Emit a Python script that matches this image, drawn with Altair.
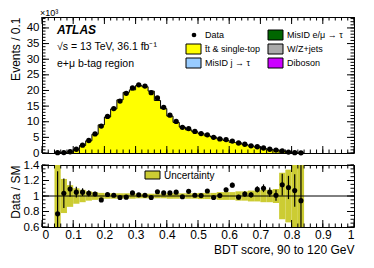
import altair as alt
import pandas as pd
import numpy as np

FONT = "Liberation Sans"

# ---- data ----
bin_lo = [round(0.04 + 0.02 * i, 2) for i in range(40)]
bin_hi = [round(b + 0.02, 2) for b in bin_lo]
centers = [round(b + 0.01, 2) for b in bin_lo]

data_k = [0.1, 0.15, 0.4, 1.2, 2.5, 4.0, 6.1, 8.6, 11.7, 14.2,
          16.6, 19.1, 20.8, 21.8, 21.4, 19.3, 17.6, 14.6, 12.1, 10.1,
          8.2, 7.8, 6.9, 6.2, 5.8, 5.0, 4.5, 4.3, 3.8, 3.2,
          2.8, 2.3, 2.0, 1.6, 1.2, 0.95, 0.64, 0.3, 0.1, 0.05]
mc_k = [0.13, 0.15, 0.37, 1.15, 2.4, 3.9, 6.0, 9.0, 11.5, 14.1,
        17.0, 19.4, 20.2, 21.6, 21.2, 19.8, 16.8, 14.2, 11.8, 9.8,
        8.3, 7.4, 6.8, 6.2, 5.5, 5.1, 4.5, 4.0, 3.4, 3.25,
        2.75, 2.25, 1.85, 1.45, 1.15, 0.94, 0.56, 0.27, 0.095, 0.055]

ratio = [0.77, 1.035, 1.09, 1.05, 1.05, 1.035, 1.026, 0.95, 1.02, 1.01,
         0.98, 0.985, 1.04, 1.015, 1.01, 0.98, 1.055, 1.04, 1.04, 1.05,
         0.99, 1.06, 1.01, 1.005, 1.065, 0.98, 1.005, 1.08, 1.14, 0.985,
         1.025, 1.015, 1.085, 1.10, 1.05, 1.01, 1.146, 1.11, 1.07, 0.94]
ratio_err = [0.55, 0.19, 0.10, 0.07, 0.05, 0.04, 0.03, 0.025, 0.02, 0.02,
             0.02, 0.02, 0.02, 0.02, 0.02, 0.02, 0.02, 0.02, 0.02, 0.02,
             0.02, 0.02, 0.02, 0.02, 0.02, 0.02, 0.02, 0.025, 0.03, 0.03,
             0.035, 0.035, 0.04, 0.05, 0.06, 0.07, 0.14, 0.15, 0.21, 0.6]
unc = [0.6, 0.22, 0.14, 0.10, 0.08, 0.06, 0.05, 0.04, 0.035, 0.035,
       0.035, 0.035, 0.035, 0.03, 0.03, 0.03, 0.03, 0.03, 0.035, 0.035,
       0.035, 0.035, 0.035, 0.04, 0.04, 0.04, 0.05, 0.05, 0.05, 0.06,
       0.06, 0.07, 0.07, 0.08, 0.08, 0.09, 0.30, 0.34, 0.6, 0.6]

x_tick_labels = [0, 0.1, 0.2, 0.3, 0.4, 0.5, 0.6, 0.7, 0.8, 0.9, 1]
y_tick_labels = [0, 5, 10, 15, 20, 25, 30, 35, 40]
r_tick_labels = [0.6, 0.8, 1.0, 1.2, 1.4]

legend_items = ["Data", "t\u0304t & single-top", "MisID j \u2192 \u03c4",
                "MisID e/\u03bc \u2192 \u03c4", "W/Z+jets", "Diboson"]
legend_colors = [None, "#ffff00", "#99ccff", "#006600", "#aaaaaa", "#cc00ff"]

W, H1, H2 = 312, 136, 62
YMAX = 43.5

hist = pd.DataFrame({"lo": bin_lo, "hi": bin_hi, "c": centers,
                     "data": data_k, "mc": mc_k,
                     "r": ratio, "re": ratio_err, "u": unc})
hist["r_lo"] = hist["r"] - hist["re"]
hist["r_hi"] = hist["r"] + hist["re"]
hist["u_lo"] = 1 - hist["u"]
hist["u_hi"] = 1 + hist["u"]

# step outline needs the last edge
step = pd.DataFrame({"x": bin_lo + [bin_hi[-1]], "y": mc_k + [mc_k[-1]]})

xs = alt.Scale(domain=[0, 1], nice=False, zero=False)
ys1 = alt.Scale(domain=[0, YMAX], nice=False)
ys2 = alt.Scale(domain=[0.6, 1.4], nice=False)

ax_common = dict(ticks=False, domain=False, grid=False, labelOverlap=False,
                 labelFont=FONT, titleFont=FONT, titleFontSize=12,
                 titleFontWeight="normal", titleAnchor="end")

xaxis_top = alt.Axis(values=x_tick_labels, labels=False, title=None,
                     **{k: v for k, v in ax_common.items() if not k.startswith("title")})
yaxis_top = alt.Axis(values=y_tick_labels, labelFontSize=11.5, labelPadding=3,
                     title="Events / 0.1", titleX=-20, **ax_common)
xaxis_bot = alt.Axis(values=x_tick_labels, format="~g", labelFontSize=12, labelPadding=2,
                     title="BDT score, 90 to 120 GeV", titlePadding=4, **ax_common)
yaxis_bot = alt.Axis(values=r_tick_labels, format="~g", labelFontSize=11.5, labelPadding=3,
                     title="Data / SM", titleX=-20, **ax_common)

def xticks(H, xaxis):
    maj = pd.DataFrame({"t": np.round(np.arange(0, 1.0001, 0.1), 3)})
    mnr = pd.DataFrame({"t": np.round(np.arange(0, 1.0001, 0.02), 3)})
    layers = []
    for df, L in ((maj, 7), (mnr, 3.5)):
        b = alt.Chart(df).mark_rule(color="black", strokeWidth=1)
        layers.append(b.encode(x=alt.X("t:Q", scale=xs, axis=xaxis), y=alt.value(H), y2=alt.value(H - L)))
        layers.append(b.encode(x=alt.X("t:Q", scale=xs, axis=xaxis), y=alt.value(0), y2=alt.value(L)))
    return layers

def yticks(vals_maj, vals_min, scale, yaxis):
    layers = []
    for vals, L in ((vals_maj, 7), (vals_min, 3.5)):
        b = alt.Chart(pd.DataFrame({"t": vals})).mark_rule(color="black", strokeWidth=1)
        layers.append(b.encode(y=alt.Y("t:Q", scale=scale, axis=yaxis), x=alt.value(0), x2=alt.value(L)))
        layers.append(b.encode(y=alt.Y("t:Q", scale=scale, axis=yaxis), x=alt.value(W), x2=alt.value(W - L)))
    return layers

def text(t, x, y, size=10, weight="normal", style="normal", align="left", baseline="alphabetic"):
    return alt.Chart(pd.DataFrame({"t": [t]})).mark_text(
        font=FONT, fontSize=size, fontWeight=weight, fontStyle=style,
        align=align, baseline=baseline, color="black"
    ).encode(text="t:N", x=alt.value(x), y=alt.value(y))

def box(x, y, color, w=15, h=10):
    return alt.Chart(pd.DataFrame({"a": [0]})).mark_rect(
        fill=color, stroke="black", strokeWidth=1
    ).encode(x=alt.value(x), x2=alt.value(x + w), y=alt.value(y), y2=alt.value(y + h))

# ---- top panel ----
area = alt.Chart(step).mark_area(interpolate="step-after", color="#ffff00", opacity=1).encode(
    x=alt.X("x:Q", scale=xs, axis=xaxis_top),
    y=alt.Y("y:Q", scale=ys1, axis=yaxis_top))
outline = alt.Chart(step).mark_line(interpolate="step-after", color="black", strokeWidth=1).encode(
    x=alt.X("x:Q", scale=xs, axis=xaxis_top), y=alt.Y("y:Q", scale=ys1, axis=yaxis_top))
pts = alt.Chart(hist).mark_point(filled=True, color="black", size=28, opacity=1).encode(
    x=alt.X("c:Q", scale=xs, axis=xaxis_top), y=alt.Y("data:Q", scale=ys1, axis=yaxis_top))

top_layers = [area, outline, pts]
top_layers += xticks(H1, xaxis_top)
top_layers += yticks(list(range(0, 41, 5)), list(range(0, 44, 1)), ys1, yaxis_top)
top_layers += [
    text("\u00d710\u00b3", -2, 1, size=9, baseline="bottom"),
    text("ATLAS", 15, 17, size=12, weight="bold", style="italic"),
    text("\u221as = 13 TeV, 36.1 fb\u207b\u00b9", 15, 33, size=10.5),
    text("e+\u03bc b-tag region", 15, 50, size=10.5),
]
# legend
col_x = [144, 226]
row_y = [18, 32, 46]
for i, (lab, colr) in enumerate(zip(legend_items, legend_colors)):
    cx = col_x[i // 3]
    ry = row_y[i % 3]
    if colr is None:
        top_layers.append(alt.Chart(pd.DataFrame({"a": [0]})).mark_point(
            filled=True, color="black", size=22, opacity=1).encode(
            x=alt.value(cx + 8), y=alt.value(ry)))
    else:
        top_layers.append(box(cx, ry - 5, colr))
    top_layers.append(text(lab, cx + 19, ry, size=9, baseline="middle"))

top = alt.layer(*top_layers).properties(width=W, height=H1)

# ---- ratio panel ----
band = alt.Chart(hist).mark_rect(color="#cccc33", clip=True).encode(
    x=alt.X("lo:Q", scale=xs, axis=xaxis_bot), x2="hi:Q",
    y=alt.Y("u_lo:Q", scale=ys2, axis=yaxis_bot), y2="u_hi:Q")
one = alt.Chart(pd.DataFrame({"v": [1.0]})).mark_rule(color="black", strokeWidth=1).encode(
    y=alt.Y("v:Q", scale=ys2, axis=yaxis_bot), x=alt.value(0), x2=alt.value(W))
err = alt.Chart(hist).mark_rule(color="black", strokeWidth=1.2, clip=True).encode(
    x=alt.X("c:Q", scale=xs, axis=xaxis_bot), y=alt.Y("r_lo:Q", scale=ys2, axis=yaxis_bot), y2="r_hi:Q")
rpts = alt.Chart(hist).mark_point(filled=True, color="black", size=26, opacity=1, clip=True).encode(
    x=alt.X("c:Q", scale=xs, axis=xaxis_bot), y=alt.Y("r:Q", scale=ys2, axis=yaxis_bot))

bot_layers = [band, one, err, rpts]
bot_layers += xticks(H2, xaxis_bot)
bot_layers += yticks(r_tick_labels, [round(0.6 + 0.05 * i, 2) for i in range(17)], ys2, yaxis_bot)
bot_layers += [box(103, 6, "#cccc33", w=15, h=8),
               text("Uncertainty", 122, 10.5, size=10, baseline="middle")]

bot = alt.layer(*bot_layers).properties(width=W, height=H2)

chart = alt.vconcat(top, bot, spacing=12, bounds="flush").resolve_scale(
    x="independent", y="independent").configure_view(
    stroke="black", strokeWidth=1
).configure_axis(labelOverlap=False).properties(
    padding={"left": 0, "top": 0, "right": 5, "bottom": 5}, background="white")

chart.save("out.html", embed_options={"renderer": "svg", "actions": False})
